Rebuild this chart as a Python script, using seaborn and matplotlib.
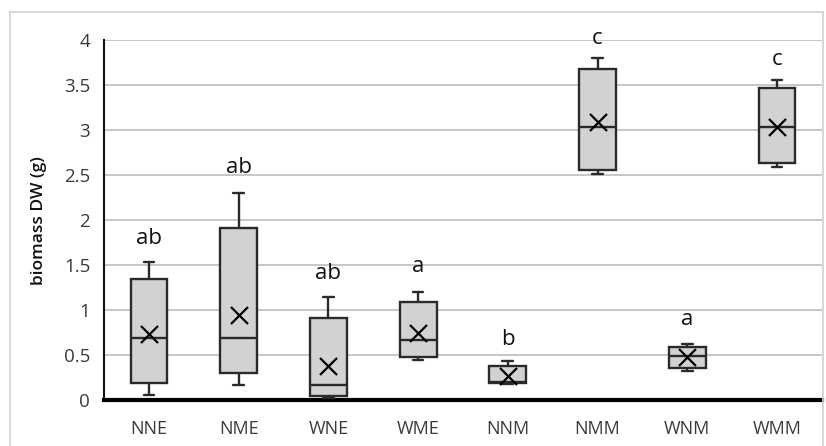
import numpy as np
import pandas as pd
import matplotlib.pyplot as plt
import matplotlib.patches as mpatches
import seaborn as sns

# Box-and-whisker summary (min, Q1, median, Q3, max, mean)
groups = ['NNE', 'NME', 'WNE', 'WME', 'NNM', 'NMM', 'WNM', 'WMM']
mins = [0.055, 0.167, 0.02, 0.45, 0.18, 2.51, 0.325, 2.59]
q1s = [0.19, 0.30, 0.044, 0.48, 0.185, 2.56, 0.36, 2.64]
medians = [0.685, 0.685, 0.167, 0.67, 0.20, 3.04, 0.49, 3.04]
q3s = [1.34, 1.91, 0.915, 1.09, 0.38, 3.68, 0.59, 3.47]
maxs = [1.53, 2.30, 1.14, 1.20, 0.43, 3.80, 0.62, 3.56]
means = [0.73, 0.95, 0.38, 0.75, 0.27, 3.09, 0.48, 3.04]
letters = ['ab', 'ab', 'ab', 'a', 'b', 'c', 'a', 'c']
letter_y = [1.80, 2.58, 1.41, 1.48, 0.67, 4.02, 0.89, 3.78]

# five points per group reproduce the box exactly (whiskers at min/max)
rows = []
for g, a, b, c, d, e in zip(groups, mins, q1s, medians, q3s, maxs):
    for v in (a, b, c, d, e):
        rows.append({'group': g, 'biomass': v})
df = pd.DataFrame(rows)

sns.set_style('white')
plt.rcParams['font.family'] = ['Open Sans', 'DejaVu Sans']

fig = plt.figure(figsize=(8.26, 4.46), dpi=100)
ax = fig.add_axes([0.126, 0.103, 0.869, 0.807])

sns.boxplot(data=df, x='group', y='biomass', order=groups, whis=(0, 100),
            showfliers=False, width=0.41, color='#d2d2d2', linecolor='#2a2a2a',
            linewidth=1.7, capwidths=0.12, saturation=1, ax=ax, zorder=3)
sns.scatterplot(x=np.arange(len(groups)), y=means, marker='x', s=150,
                color='black', linewidth=1.6, ax=ax, zorder=4)

for i, (t, y) in enumerate(zip(letters, letter_y)):
    ax.text(i, y, t, ha='center', va='center', fontsize=16, color='#111111', zorder=5)

ax.set_xlim(-0.5, len(groups) - 0.5)
ax.set_ylim(0, 4)
ax.set_yticks(np.arange(0, 4.01, 0.5))
ax.set_yticklabels(['0', '0.5', '1', '1.5', '2', '2.5', '3', '3.5', '4'])
ax.yaxis.grid(True, color='#bdbdbd', linewidth=1.2, zorder=0)
ax.set_axisbelow(True)
ax.tick_params(axis='y', length=0, pad=10, labelsize=13.5, labelcolor='#3a3a3a')
ax.tick_params(axis='x', length=0, pad=14, labelsize=13, labelcolor='#3a3a3a')
ax.set_xlabel('')
ax.set_ylabel('biomass DW (g)', fontsize=12.5, color='#111111', labelpad=12,
              fontweight='semibold')

for s in ['top', 'right']:
    ax.spines[s].set_visible(False)
ax.spines['left'].set_color('#111111')
ax.spines['left'].set_linewidth(1.5)
ax.spines['bottom'].set_color('#000000')
ax.spines['bottom'].set_linewidth(3)

# light outer frame of the chart area
fig.patches.append(mpatches.Rectangle((10 / 826, -0.02), 813 / 826, 1 - 12 / 446 + 0.02,
                                      transform=fig.transFigure, fill=False,
                                      edgecolor='#cfcfcf', linewidth=1.2))

plt.savefig('out.png', dpi=100)
